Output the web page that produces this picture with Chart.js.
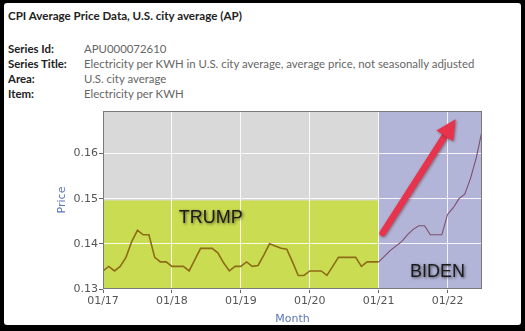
<!DOCTYPE html>
<html>
<head>
<meta charset="utf-8">
<script src="https://cdn.jsdelivr.net/npm/chart.js@4/dist/chart.umd.min.js"></script>
<style>
  html, body { margin: 0; padding: 0; background: #000; }
  body { width: 525px; height: 331px; position: relative; overflow: hidden; }
  #panel { position: absolute; left: 4px; top: 3px; width: 517px; height: 322px; background: #fff; border-radius: 3px; }
  #head { position: absolute; left: 0; top: 0; font-family: Lato, "Open Sans", sans-serif; color: #222; }
  #title { position: absolute; left: 8px; top: 9px; font-size: 11.6px; font-weight: 700; white-space: nowrap; }
  .row { position: absolute; left: 8px; font-size: 11.4px; white-space: nowrap; }
  .row b { display: inline-block; width: 76px; font-weight: 700; color: #222; }
  .row span { color: #666; }
  #chart { position: absolute; left: 0; top: 0; }
</style>
</head>
<body>
<div id="panel"></div>
<div id="head">
  <div id="title">CPI Average Price Data, U.S. city average (AP)</div>
  <div class="row" style="top:42px"><b>Series Id:</b><span>APU000072610</span></div>
  <div class="row" style="top:57px"><b>Series Title:</b><span>Electricity per KWH in U.S. city average, average price, not seasonally adjusted</span></div>
  <div class="row" style="top:72px"><b>Area:</b><span>U.S. city average</span></div>
  <div class="row" style="top:87px"><b>Item:</b><span>Electricity per KWH</span></div>
</div>
<canvas id="chart" width="525" height="331"></canvas>
<script>
// Monthly labels, Jan 2017 .. Jul 2022
const months = [];
for (let y = 17; y <= 22; y++) {
  for (let m = 1; m <= 12; m++) {
    if (y === 22 && m > 7) break;
    months.push(String(m).padStart(2, '0') + '/' + y);
  }
}

// Average price of electricity per KWH (USD), one value per month
const prices = [
  0.134, 0.135, 0.134, 0.135, 0.137, 0.1405, 0.143, 0.142, 0.142, 0.137, 0.136, 0.136,   // 2017
  0.135, 0.135, 0.135, 0.134, 0.1365, 0.139, 0.139, 0.139, 0.138, 0.1358, 0.134, 0.135,  // 2018
  0.135, 0.136, 0.135, 0.1352, 0.1375, 0.140, 0.1395, 0.139, 0.1388, 0.136, 0.133, 0.133, // 2019
  0.134, 0.134, 0.134, 0.133, 0.135, 0.137, 0.137, 0.137, 0.137, 0.135, 0.136, 0.136,    // 2020
  0.136, 0.1372, 0.1385, 0.1395, 0.1405, 0.142, 0.1432, 0.144, 0.144, 0.142, 0.142, 0.142, // 2021
  0.1465, 0.148, 0.150, 0.151, 0.1545, 0.159, 0.165                                       // 2022
];

// Administration periods (month index where each begins) and labels
const periods = ['TRUMP', 'BIDEN'];
const periodStart = [0, 48];
const trumpBandTop = 0.1496;

// Annotation anchors in data units: [month, price]
const arrowFrom = [48.7, 0.1424];
const arrowTo = [61.4, 0.1676];
const periodLabelAt = [[18.75, 0.1457], [58.25, 0.1337]];

const points = prices.map((v, i) => ({ x: i, y: v }));

const bandPlugin = {
  id: 'bands',
  beforeDraw(chart) {
    const { ctx, chartArea: a, scales: { x, y } } = chart;
    ctx.save();
    ctx.fillStyle = '#d9d9d9';
    ctx.fillRect(a.left, a.top, a.right - a.left, a.bottom - a.top);
    const xs = x.getPixelForValue(periodStart[1]);
    ctx.fillStyle = '#cadc52';
    const yt = y.getPixelForValue(trumpBandTop);
    ctx.fillRect(a.left, yt, xs - a.left, a.bottom - yt);
    ctx.fillStyle = '#b3b5d8';
    ctx.fillRect(xs, a.top, a.right - xs, a.bottom - a.top);
    ctx.restore();
  },
  afterDraw(chart) {
    const { ctx, chartArea: a, scales: { x, y } } = chart;
    ctx.save();
    // frame around plot
    ctx.strokeStyle = '#7a7a7a';
    ctx.lineWidth = 1;
    ctx.strokeRect(a.left + 0.5, a.top + 0.5, a.right - a.left - 1, a.bottom - a.top - 1);

    // rising arrow
    const x0 = x.getPixelForValue(arrowFrom[0]), y0 = y.getPixelForValue(arrowFrom[1]);
    const x1 = x.getPixelForValue(arrowTo[0]), y1 = y.getPixelForValue(arrowTo[1]);
    const ang = Math.atan2(y1 - y0, x1 - x0);
    const headLen = 20, headHalf = 10;
    const bx = x1 - headLen * Math.cos(ang), by = y1 - headLen * Math.sin(ang);
    ctx.shadowColor = 'rgba(60,0,0,0.45)';
    ctx.shadowBlur = 3;
    ctx.shadowOffsetX = 1;
    ctx.shadowOffsetY = 1;
    ctx.strokeStyle = '#e8334c';
    ctx.lineWidth = 6.5;
    ctx.lineCap = 'round';
    ctx.beginPath();
    ctx.moveTo(x0, y0);
    ctx.lineTo(bx + 2 * Math.cos(ang), by + 2 * Math.sin(ang));
    ctx.stroke();
    ctx.fillStyle = '#e8334c';
    ctx.beginPath();
    ctx.moveTo(x1, y1);
    ctx.lineTo(bx + headHalf * Math.sin(ang), by - headHalf * Math.cos(ang));
    ctx.lineTo(bx - headHalf * Math.sin(ang), by + headHalf * Math.cos(ang));
    ctx.closePath();
    ctx.fill();

    // period labels
    ctx.font = '18px "Liberation Sans", Arial, sans-serif';
    ctx.textAlign = 'center';
    ctx.textBaseline = 'middle';
    ctx.shadowColor = 'rgba(0,0,0,0.6)';
    ctx.shadowBlur = 3;
    ctx.shadowOffsetX = 1;
    ctx.shadowOffsetY = 1;
    ctx.fillStyle = '#1b1b1b';
    periods.forEach((t, i) => {
      ctx.fillText(t, x.getPixelForValue(periodLabelAt[i][0]), y.getPixelForValue(periodLabelAt[i][1]));
    });
    ctx.restore();
  }
};

new Chart(document.getElementById('chart'), {
  type: 'line',
  data: {
    datasets: [{
      data: points,
      borderWidth: 1.6,
      pointRadius: 0,
      tension: 0,
      fill: false,
      segment: {
        borderColor: c => c.p0.parsed.x >= periodStart[1] ? '#7e4d6c' : '#8c6c16',
        borderWidth: c => c.p0.parsed.x >= periodStart[1] ? 1.1 : 1.6
      }
    }]
  },
  options: {
    responsive: false,
    animation: false,
    events: [],
    layout: { padding: { left: 52, right: 43, top: 111, bottom: 5 } },
    plugins: { legend: { display: false }, tooltip: { enabled: false } },
    scales: {
      x: {
        type: 'linear',
        min: 0,
        max: prices.length - 1,
        afterFit: s => { s.height = 37; },
        grid: { color: 'rgba(255,255,255,0.85)', lineWidth: 1, tickColor: '#666', tickLength: 4 },
        border: { display: false },
        ticks: {
          stepSize: 12,
          includeBounds: false,
          autoSkip: false,
          maxRotation: 0,
          padding: 2,
          color: '#555',
          font: { family: '"DejaVu Sans", Verdana, sans-serif', size: 11 },
          callback: v => months[v]
        },
        title: {
          display: true, text: 'Month', color: '#5a78b8',
          font: { family: '"DejaVu Sans", Verdana, sans-serif', size: 11 },
          padding: { top: 0, bottom: 0 }
        }
      },
      y: {
        min: 0.13,
        max: 0.1694,
        afterFit: s => { s.width = 51; },
        grid: { color: 'rgba(255,255,255,0.85)', lineWidth: 1, tickColor: '#666', tickLength: 4 },
        border: { display: false },
        ticks: {
          stepSize: 0.01,
          includeBounds: false,
          padding: 1,
          color: '#555',
          font: { family: '"DejaVu Sans", Verdana, sans-serif', size: 11 },
          callback: v => v.toFixed(2)
        },
        title: {
          display: true, text: 'Price', color: '#5a78b8',
          font: { family: '"DejaVu Sans", Verdana, sans-serif', size: 11 },
          padding: { top: 4, bottom: 0 }
        }
      }
    }
  },
  plugins: [bandPlugin]
});
</script>
</body>
</html>
